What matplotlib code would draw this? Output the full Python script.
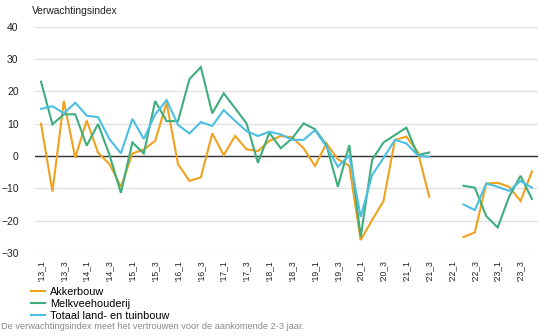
import numpy as np
import matplotlib
matplotlib.use("Agg")
import matplotlib.pyplot as plt

plt.rcParams['font.family'] = ['Liberation Sans', 'DejaVu Sans']

# Quarters '13_1 .. '23_4 (no survey in '21_4 and '22_1)
quarters = [f"'{y}_{q}" for y in range(13, 24) for q in range(1, 5)]
nan = np.nan

akkerbouw = [10, -11, 17, -0.5, 11, 1, -2.5, -9.5, 0.8, 2, 4.7, 16.5,
             -2.5, -7.7, -6.6, 7, 0.3, 6.2, 2.1, 1.5, 4.7, 6.2, 5.8, 2.4,
             -3.1, 3.9, -1, -3, -26, -19.8, -13.9, 5, 6, 1.3, -12.6, nan,
             nan, -25.1, -23.6, -8.5, -8.3, -9.5, -13.9, -4.8]
melkvee = [23, 9.8, 12.9, 12.9, 3.2, 9.9, 0.3, -11.4, 4.2, 0.8, 17, 10.8,
           10.8, 23.8, 27.5, 13.2, 19.4, 14.8, 10.1, -2.1, 7.2, 2.4, 5.5, 10.1,
           8.3, 3.4, -9.5, 3.4, -25, -1.2, 4.2, 6.5, 8.8, 0.3, 1.1, nan,
           nan, -9.2, -9.8, -18.6, -22.1, -12.6, -6.1, -13.3]
totaal = [14.6, 15.4, 13.2, 16.5, 12.5, 12, 5.2, 0.8, 11.5, 5.3, 12.9, 17.3,
          9.6, 7, 10.5, 9.3, 14.2, 10.9, 7.7, 6.2, 7.5, 6.7, 5, 5,
          8, 2.9, -3.3, 0.2, -18.8, -5.9, -0.6, 5, 3.9, 0.2, -0.3, nan,
          nan, -15, -16.7, -8.5, -9.5, -10.8, -7.7, -9.8]

series = [
    ("Akkerbouw", akkerbouw, "#f0a21e"),
    ("Melkveehouderij", melkvee, "#3fae7d"),
    ("Totaal land- en tuinbouw", totaal, "#4cc0e4"),
]

fig = plt.figure(figsize=(5.39, 3.36), dpi=100)
ax = fig.add_axes([0.0655, 0.247, 0.932, 0.6735])

x = np.arange(len(quarters))
for name, vals, col in series:
    ax.plot(x, vals, color=col, lw=1.5, label=name, solid_joinstyle='miter')

ax.axhline(0, color="#333333", lw=1.0, zorder=1)
ax.set_ylim(-30, 40)
ax.set_xlim(-0.5, len(quarters) - 0.5)
ax.set_yticks(range(-30, 41, 10))
ax.yaxis.grid(True, color="#e2e2e2", lw=1.0)
ax.set_axisbelow(True)
for s in ax.spines.values():
    s.set_visible(False)

ax.set_xticks(x[::2])
ax.set_xticklabels(quarters[::2], rotation=90, fontsize=6.2,
                   family=['Liberation Sans Narrow', 'Liberation Sans'],
                   color="#222222")
ax.tick_params(axis='x', length=0, pad=5)
ax.tick_params(axis='y', length=0, pad=12, labelsize=7.5, labelcolor="#222222")

fig.text(0.059, 0.967, "Verwachtingsindex", fontsize=7.4, color="#222222",
         va='center', ha='left')

fig.legend(loc='upper left', bbox_to_anchor=(0.058, 0.146),
           bbox_transform=fig.transFigure, frameon=False, fontsize=7.8,
           handlelength=1.25, handletextpad=0.5, labelspacing=0.2,
           borderpad=0, borderaxespad=0)

fig.text(0.002, 0.027, "De verwachtingsindex meet het vertrouwen voor de aankomende 2-3 jaar.",
         fontsize=6.7, color="#8a8a8a", va='center', ha='left')

fig.savefig("out.png", dpi=100)
